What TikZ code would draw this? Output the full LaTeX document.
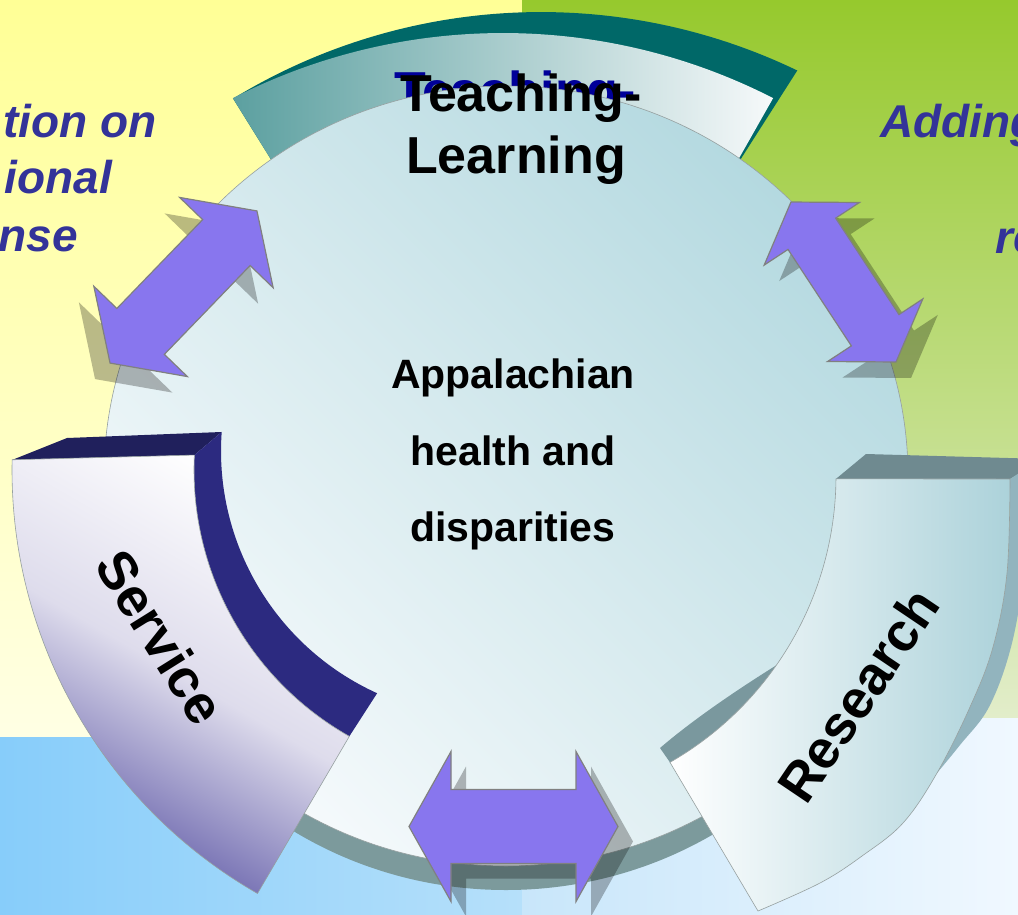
\documentclass[tikz,border=0pt]{standalone}
\usepackage{fontspec}
\setmainfont{Liberation Sans}
\usepackage{tikz}
\usetikzlibrary{calc}
\usepackage{xcolor}
\definecolor{paleyellow}{RGB}{255,255,150}
\definecolor{creamyellow}{RGB}{255,255,228}
\definecolor{leafgreen}{RGB}{150,201,45}
\definecolor{palegreen}{RGB}{226,237,202}
\definecolor{skyblue}{RGB}{135,205,250}
\definecolor{mistblue}{RGB}{182,224,250}
\definecolor{iceblue}{RGB}{200,230,250}
\definecolor{frostblue}{RGB}{240,248,255}
\definecolor{deepteal}{RGB}{0,104,104}
\definecolor{midteal}{RGB}{92,160,160}
\definecolor{tealwhite}{RGB}{246,249,250}
\definecolor{paleteal}{RGB}{180,217,224}
\definecolor{diskmid}{RGB}{214,234,238}
\definecolor{diskwhite}{RGB}{246,250,252}
\definecolor{diskside}{RGB}{124,154,156}
\definecolor{diskedge}{RGB}{150,160,160}
\definecolor{navytop}{RGB}{32,32,92}
\definecolor{navyside}{RGB}{44,42,128}
\definecolor{dusk}{RGB}{92,86,165}
\definecolor{lilac}{RGB}{222,220,236}
\definecolor{slatetop}{RGB}{111,138,144}
\definecolor{steelside}{RGB}{146,180,190}
\definecolor{wedgegray}{RGB}{122,152,158}
\definecolor{researchteal}{RGB}{172,210,218}
\definecolor{arrowfill}{RGB}{136,118,238}
\definecolor{arrowgray}{RGB}{128,128,128}
\definecolor{textblue}{RGB}{51,51,153}
\definecolor{ghostblue}{RGB}{0,0,153}

\begin{document}
\begin{tikzpicture}[x=1pt, y=-1pt,
                line join=miter,
                blockarrow/.style={fill=arrowfill, draw=arrowgray, line width=1.2pt},
                arrowshadow/.style={fill=black, fill opacity=0.27},
                faceedge/.style={draw=diskedge, line width=0.6pt},
                bigtext/.style={inner sep=0pt, font=\fontsize{52}{62}\selectfont\bfseries},
                armtext/.style={inner sep=0pt, font=\fontsize{54}{64}\selectfont\bfseries},
                hubtext/.style={inner sep=0pt, font=\fontsize{41}{49}\selectfont\bfseries},
                sidetext/.style={inner sep=0pt, text=textblue, font=\fontsize{46}{55}\selectfont\bfseries\itshape}
                ]
                \useasboundingbox (0,0) rectangle (1018,914);
                \clip (0,0) rectangle (1018,914);

                %% Background
                \shade[top color=paleyellow, bottom color=creamyellow] (0,0) rectangle (522,737);
                \shade[top color=leafgreen, bottom color=palegreen] (522,0) rectangle (1018,718);
                \shade[left color=skyblue, right color=mistblue] (0,737) rectangle (522,914);
                \shade[left color=iceblue, right color=frostblue] (522,718) rectangle (1018,914);

                \coordinate (D) at (506,476);
                \coordinate (S) at (500,470);
                \coordinate (W) at (487,451);
                \coordinate (A) at (541,603);
                \coordinate (B) at (503,626);

                %% Teaching-Learning arm
                \fill[deepteal] ($(A)+(238.6:591)$) arc[start angle=238.6, end angle=295.7, radius=591] -- (721,190) -- (290,190) -- cycle;
                \shade[left color=midteal, right color=tealwhite] ($(B)+(242.9:593)$) arc[start angle=242.9, end angle=297.1, radius=593] -- (721,190) -- (290,190) -- cycle;
                \node[bigtext, text=ghostblue, anchor=base] (ghost) at (515,108) {Teaching-};

                %% Disk
                \fill[diskside] (506,500) ellipse [x radius=402, y radius=390];
                \shadedraw[top color=paleteal, bottom color=diskwhite, middle color=diskmid, shading angle=-45, faceedge] (D) ellipse [x radius=402, y radius=390];

                %% Service arm
                \fill[navytop] (12,460) -- (67,438) -- ($(W)+(184.1:266)$) -- ($(S)+(182.8:306)$) -- cycle;
                \fill[navyside] ($(S)+(182.8:306)$) arc[start angle=182.8, end angle=119.5, radius=306] -- ($(W)+(114.4:266)$) arc[start angle=114.4, end angle=184.1, radius=266] -- cycle;
                \shadedraw[top color=white, bottom color=dusk, middle color=lilac, shading angle=-30, faceedge] ($(S)+(181.2:488)$) arc[start angle=181.2, end angle=119.8, radius=488] -- ($(S)+(119.5:306)$) arc[start angle=119.5, end angle=182.8, radius=306] -- cycle;

                %% Research arm
                \fill[slatetop] ($(D)+(0.5:330)$) -- (866,454) -- (1044,459) -- (1010,479) -- cycle;
                \fill[steelside] plot[smooth, tension=0.6] coordinates {(1010,479) (1007,573) (993,647) (970,707) (937,773)} -- plot[smooth, tension=0.6] coordinates {(937,773) (960,745) (989,707) (1011,647) (1024,573) (1036,462)} -- cycle;
                \fill[wedgegray] ($(D)+(60.2:330)$) -- (660,748) .. controls (695,718) and (740,688) .. ($(D)+(35:330)$) arc[start angle=35, end angle=60.2, radius=330] -- cycle;
                \shadedraw[left color=white, right color=researchteal, faceedge] ($(D)+(0.5:330)$) -- plot[smooth, tension=0.6] coordinates {(1010,479) (1007,573) (993,647) (970,707) (937,773) (903,823) (862,856) (820,883) (758,911)} -- ($(D)+(60.2:330)$) arc[start angle=60.2, end angle=0.5, radius=330] -- cycle;

                %% Double arrows
                \foreach \ax/\ay/\bx/\by/\ang/\len/\hd/\hw/\sw in {183.5/287/168.5/303/46/105.75/44/65/33, 843.5/282/858.5/298/-56.7/95.7/38/57/28.5, 513.5/826.5/528.5/841.5/0/104.5/42/75/37} {
                    \fill[arrowshadow, shift={(\bx,\by)}, rotate=\ang] (-\len,0) -- (-\len+\hd,\hw) -- (-\len+\hd,\sw) -- (\len-\hd,\sw) -- (\len-\hd,\hw) -- (\len,0) -- (\len-\hd,-\hw) -- (\len-\hd,-\sw) -- (-\len+\hd,-\sw) -- (-\len+\hd,-\hw) -- cycle;
                    \filldraw[blockarrow, shift={(\ax,\ay)}, rotate=\ang] (-\len,0) -- (-\len+\hd,\hw) -- (-\len+\hd,\sw) -- (\len-\hd,\sw) -- (\len-\hd,\hw) -- (\len,0) -- (\len-\hd,-\hw) -- (\len-\hd,-\sw) -- (-\len+\hd,-\sw) -- (-\len+\hd,-\hw) -- cycle;
                }

                %% Labels
                \node[bigtext, anchor=base] (teach) at (521,111) {Teaching-};
                \node[bigtext, anchor=base] (learn) at (516,173) {Learning};
                \node[hubtext, anchor=base] (hub1) at (513,388) {Appalachian};
                \node[hubtext, anchor=base] (hub2) at (513,465) {health and};
                \node[hubtext, anchor=base] (hub3) at (513,541) {disparities};
                \node[armtext, rotate=-58] (service) at (161,637) {Service};
                \node[armtext, rotate=56] (research) at (858,695) {Research};

                \node[sidetext, anchor=base east] (left1) at (157,137) {tion on};
                \node[sidetext, anchor=base east] (left2) at (112,193) {ional};
                \node[sidetext, anchor=base east] (left3) at (78,251) {nse};
                \node[sidetext, anchor=base west] (right1) at (880,137) {Adding};
                \node[sidetext, anchor=base west] (right2) at (995,253) {re};
\end{tikzpicture}
\end{document}
